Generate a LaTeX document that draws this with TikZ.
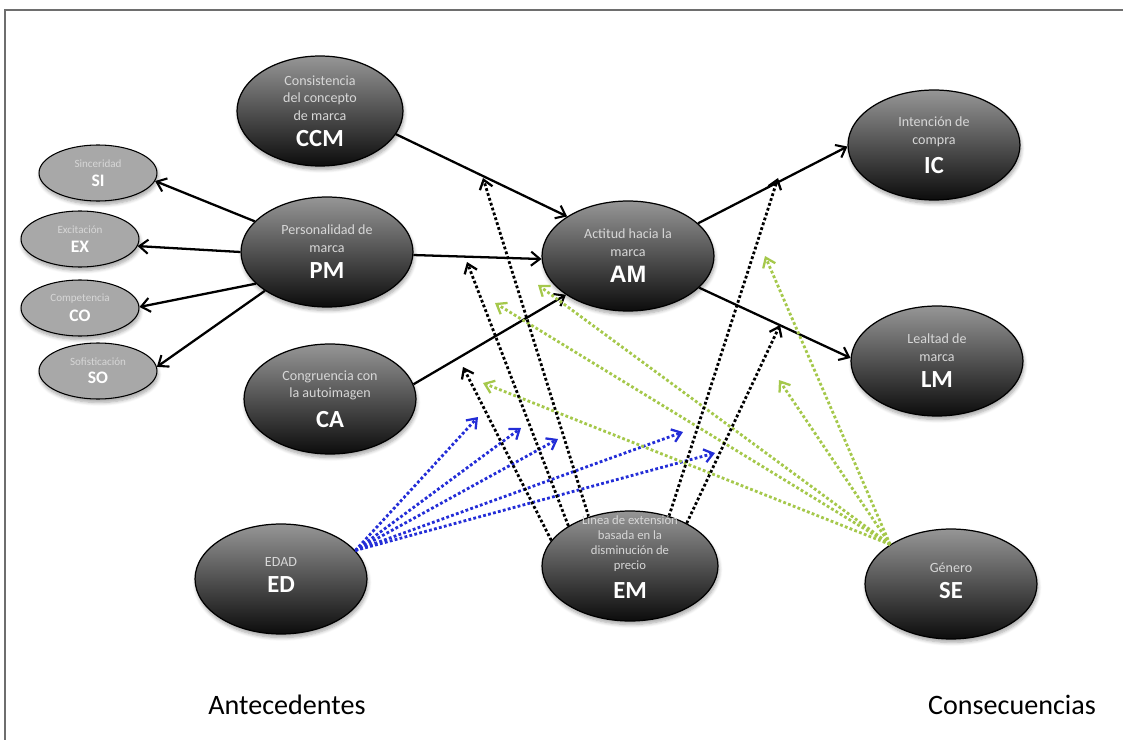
\documentclass[tikz,border=0pt]{standalone}
\usepackage{fontspec}
\setmainfont{Carlito}
\newfontfamily\arialfont{Liberation Sans}
\usetikzlibrary{shapes.geometric,arrows.meta,shadows.blur}

\definecolor{descgray}{RGB}{215,215,215}
\definecolor{ellgraytop}{RGB}{150,150,150}
\definecolor{ellgraybot}{RGB}{12,12,12}
\definecolor{traitgray}{RGB}{168,168,168}
\definecolor{framegray}{RGB}{110,110,110}
\definecolor{modblue}{RGB}{35,45,215}
\definecolor{modgreen}{RGB}{165,200,75}

\newcommand\abbr[1]{{\color{white}\fontsize{14}{17}\selectfont\bfseries #1}}
\newcommand\abbrsans[1]{{\color{white}\arialfont\fontsize{13.5}{16}\selectfont\bfseries #1}}
\newcommand\smallabbr[1]{{\color{white}\fontsize{10}{12}\selectfont\bfseries #1}}

\tikzset{
  softshadow/.style={blur shadow={shadow xshift=0.6pt, shadow yshift=-2pt,
      shadow blur steps=6, shadow blur radius=2pt, shadow opacity=35}},
  construct/.style={ellipse, draw=black, line width=0.7pt,
      top color=ellgraytop, bottom color=ellgraybot,
      minimum width=#1, minimum height=2.2cm, inner sep=0pt, softshadow},
  construct/.default=3.44cm,
  trait/.style={ellipse, draw=black, line width=0.6pt, fill=traitgray,
      minimum width=2.36cm, minimum height=1.12cm, inner sep=0pt, softshadow},
  bigtext/.style={align=center, inner sep=0pt, text=descgray,
      font=\fontsize{8}{10}\selectfont},
  smalltext/.style={align=center, inner sep=0pt, text=descgray,
      font=\fontsize{6.3}{7.5}\selectfont},
  causal/.style={draw=black, line width=1.3pt,
      -{Straight Barb[length=5pt,width=8pt,line width=1.2pt]}},
  moderation/.style={line width=1.6pt, dash pattern=on 1.6pt off 1.3pt,
      -{Straight Barb[length=5pt,width=7.5pt,line width=1.3pt]}},
  caption/.style={font=\fontsize{16}{19}\selectfont, inner sep=0pt},
}

\begin{document}
\begin{tikzpicture}[x=0.02cm, y=-0.02cm]
\useasboundingbox (0,0) rectangle (1123,740);

% page frame
\draw[framegray, line width=1.2pt] (5,740) -- (5,10) -- (1123,10);

% main constructs
\node[construct=3.32cm] (ccm) at (320,111) {};
\node[construct] (pm)  at (327,252) {};
\node[construct] (ca)  at (330,399) {};
\node[construct] (am)  at (628,256) {};
\node[construct] (ic)  at (934,145) {};
\node[construct] (lm)  at (937,361) {};
\node[construct] (ed)  at (281,579) {};
\node[construct=3.52cm] (em)  at (630,566) {};
\node[construct] (se)  at (951,584) {};

% personality dimensions
\node[trait] (si) at (98,173) {};
\node[trait] (ex) at (80,239) {};
\node[trait] (co) at (80,308) {};
\node[trait] (so) at (98,371) {};

% direct effects
\draw[causal] (ccm.-17) -- (am.147);
\draw[causal] (pm.-2)   -- (am.182);
\draw[causal] (ca.10)   -- (am.212);
\draw[causal] (am.25)   -- (ic.181);
\draw[causal] (am.-24)  -- (lm.178);

\draw[causal] (pm.157) -- (si.-8);
\draw[causal] (pm.180) -- (ex.-7);
\draw[causal] (pm.204) -- (co.1);
\draw[causal] (pm.212) -- (so.4);

% moderating effects: points on the direct-effect paths
\coordinate (k1) at (483,178);
\coordinate (k2) at (467,262);
\coordinate (k3) at (463,367);
\coordinate (k4) at (778,178);
\coordinate (k5) at (780,325);

\coordinate (b1) at (478,417);
\coordinate (b2) at (521,428);
\coordinate (b3) at (558,439);
\coordinate (b4) at (683,432);
\coordinate (b5) at (715,453);

\coordinate (g1) at (765,256);
\coordinate (g2) at (779,380);
\coordinate (g3) at (538,285);
\coordinate (g4) at (495,303);
\coordinate (g5) at (483,383);

% EDAD
\foreach \t in {b1,b2,b3,b4,b5}
  \draw[moderation, modblue] (ed.21) -- (\t);

% Genero
\foreach \t in {g1,g2,g3,g4,g5}
  \draw[moderation, modgreen] (se.147) -- (\t);

% Linea de extension
\draw[moderation, black] (em.162) -- (k3);
\draw[moderation, black] (em.147) -- (k2);
\draw[moderation, black] (em.130) -- (k1);
\draw[moderation, black] (em.52)  -- (k4);
\draw[moderation, black] (em.37)  -- (k5);

% construct labels
\node[bigtext] (ccm-t) at (ccm) {Consistencia\\del concepto\\de marca\\[5pt]\abbr{CCM}};
\node[bigtext] (pm-t) at (pm) {Personalidad de\\marca\\[5pt]\abbr{PM}};
\node[bigtext] (ca-t) at (ca) {Congruencia con\\la autoimagen\\[5pt]\abbr{CA}};
\node[bigtext] (am-t) at (am) {Actitud hacia la\\marca\\[5pt]\abbrsans{AM}};
\node[bigtext] (ic-t) at (ic) {Intención de\\compra\\[5pt]\abbr{IC}};
\node[bigtext] (lm-t) at (lm) {Lealtad de\\marca\\[5pt]\abbr{LM}};
\node[bigtext] (ed-t) at (281,575) {EDAD\\[5pt]\abbr{ED}};
\node[bigtext, font=\fontsize{7.2}{8.6}\selectfont] (em-t) at (630,557)
  {Línea de extensión\\basada en la\\disminución de\\precio\\[5pt]\abbr{EM}};
\node[bigtext] (se-t) at (951,581) {Género\\[5pt]\abbr{SE}};

\node[smalltext] (si-t) at (si) {Sinceridad\\[3pt]\smallabbr{SI}};
\node[smalltext] (ex-t) at (ex) {Excitación\\[3pt]\smallabbr{EX}};
\node[smalltext] (co-t) at (co) {Competencia\\[3pt]\smallabbr{CO}};
\node[smalltext] (so-t) at (so) {Sofisticación\\[3pt]\smallabbr{SO}};

% side captions
\node[caption] (antecedentes) at (287,705) {Antecedentes};
\node[caption] (consecuencias) at (1012,705) {Consecuencias};

\end{tikzpicture}
\end{document}
